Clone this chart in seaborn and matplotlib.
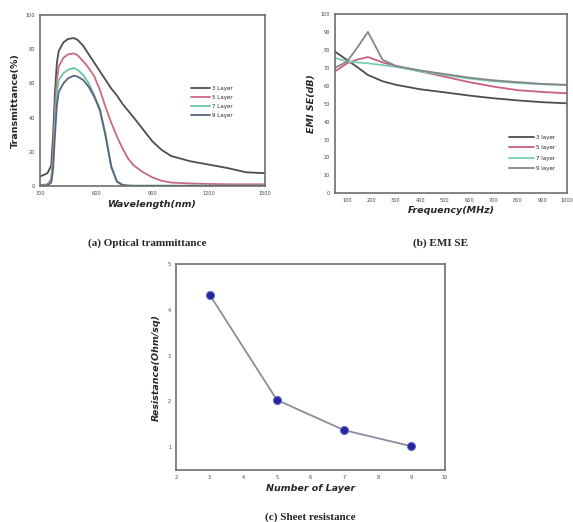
import numpy as np
import pandas as pd
import matplotlib
matplotlib.use("Agg")
import matplotlib.pyplot as plt
import seaborn as sns

# (a) optical transmittance
wavelength = [300, 340, 360, 370, 380, 390, 400, 425, 450, 480, 500, 530, 560, 590, 620,
              650, 680, 710, 740, 770, 800, 850, 900, 950, 1000, 1100, 1200, 1300, 1400, 1500]
trans_3 = [5.5, 7.5, 12, 30, 55, 72, 79, 84, 86, 86.5, 85.5, 82, 77, 72, 67,
           62, 57, 53, 48, 44, 40, 33, 26, 21, 17.5, 14.5, 12.5, 10.5, 8, 7.5]
trans_5 = [0.5, 1, 4, 20, 45, 62, 70, 75, 77, 77.5, 76.5, 73, 69, 64, 56,
           46, 37, 29, 22, 16, 12, 8, 5, 3, 2, 1.5, 1.2, 1, 1, 1]
trans_7 = [0, 0.5, 3, 15, 38, 55, 62, 66, 68, 69, 68, 65, 60, 53, 45,
           30, 12, 3, 0.8, 0.3, 0.2, 0.2, 0.2, 0.2, 0.2, 0.2, 0.2, 0.2, 0.2, 0.2]
trans_9 = [0, 0.3, 2, 10, 30, 47, 55, 60, 63, 64.5, 64, 62, 58, 52, 44,
           29, 11, 2.5, 0.5, 0.2, 0.1, 0.1, 0.1, 0.1, 0.1, 0.1, 0.1, 0.1, 0.1, 0.1]

# (b) EMI shielding effectiveness
frequency = [50, 100, 140, 185, 245, 300, 400, 500, 600, 700, 800, 900, 1000]
se_3 = [79, 74.3, 70.5, 66, 62.5, 60.5, 58, 56.3, 54.5, 53, 51.8, 50.8, 50.2]
se_5 = [68, 72.5, 74.5, 76, 73, 71, 68, 65, 62, 59.5, 57.5, 56.5, 55.8]
se_7 = [75.5, 73.5, 73, 72.5, 71.5, 70.5, 68, 66, 64, 62.5, 61.5, 60.8, 60.3]
se_9 = [70, 73.5, 81, 90, 74.5, 71, 68.5, 66.5, 64.5, 63, 62, 61, 60.5]

# (c) sheet resistance
layers = [3, 5, 7, 9]
resistance = [4.33, 2.03, 1.37, 1.02]

labels_a = ["3 Layer", "5 Layer", "7 Layer", "9 Layer"]
labels_b = ["3 layer", "5 layer", "7 layer", "9 layer"]
colors_a = ["#4e4e4e", "#c86a80", "#6cc4a4", "#5a6480"]
colors_b = ["#4e4e4e", "#c8607c", "#78cdb4", "#85858c"]

sns.set_theme(style="white")
plt.rcParams["font.family"] = ["DejaVu Sans"]

fig = plt.figure(figsize=(5.73, 5.22), dpi=100)

spine_color = "#6e6e6e"
tick_fs = 3.6
label_fs = 6.8
cap_font = {"family": "Liberation Serif", "weight": "bold", "size": 8}


def style_axes(ax):
    for s in ax.spines.values():
        s.set_color(spine_color)
        s.set_linewidth(1.2)
    ax.tick_params(axis="both", direction="out", length=2, width=0.8,
                   colors="#444444", labelsize=tick_fs, pad=1.5)


# ---- (a)
ax_a = fig.add_axes([0.0698, 0.6437, 0.3927, 0.3276])
df_a = pd.DataFrame({
    "wavelength": wavelength * 4,
    "trans": trans_3 + trans_5 + trans_7 + trans_9,
    "layer": np.repeat(labels_a, len(wavelength)),
})
sns.lineplot(data=df_a, x="wavelength", y="trans", hue="layer",
             palette=dict(zip(labels_a, colors_a)), linewidth=1.3, ax=ax_a)
ax_a.set_xlim(300, 1500)
ax_a.set_ylim(0, 100)
ax_a.set_xticks([300, 600, 900, 1200, 1500])
ax_a.set_yticks([0, 20, 40, 60, 80, 100])
ax_a.set_xlabel("Wavelength(nm)", fontsize=label_fs, fontweight="bold",
                fontstyle="italic", labelpad=3)
ax_a.set_ylabel("Transmittance(%)", fontsize=label_fs, fontweight="bold", labelpad=4)
style_axes(ax_a)
h, l = ax_a.get_legend_handles_labels()
ax_a.legend(h, l, loc="upper left", bbox_to_anchor=(0.66, 0.6), frameon=False,
            fontsize=4, handlelength=3.4, labelspacing=0.75, handletextpad=0.5,
            borderaxespad=0)

# ---- (b)
ax_b = fig.add_axes([0.5846, 0.6297, 0.4044, 0.3435])
df_b = pd.DataFrame({
    "frequency": frequency * 4,
    "se": se_3 + se_5 + se_7 + se_9,
    "layer": np.repeat(labels_b, len(frequency)),
})
sns.lineplot(data=df_b, x="frequency", y="se", hue="layer",
             palette=dict(zip(labels_b, colors_b)), linewidth=1.3, ax=ax_b)
ax_b.set_xlim(50, 1000)
ax_b.set_ylim(0, 100)
ax_b.set_xticks(range(100, 1001, 100))
ax_b.set_yticks(range(0, 101, 10))
ax_b.set_xlabel("Frequency(MHz)", fontsize=label_fs, fontweight="bold",
                fontstyle="italic", labelpad=2)
ax_b.set_ylabel("EMI SE(dB)", fontsize=label_fs, fontweight="bold",
                fontstyle="italic", labelpad=3)
style_axes(ax_b)
h, l = ax_b.get_legend_handles_labels()
ax_b.legend(h, l, loc="upper left", bbox_to_anchor=(0.74, 0.34), frameon=False,
            fontsize=4, handlelength=4.5, labelspacing=1.0, handletextpad=0.5,
            borderaxespad=0)

# ---- (c)
ax_c = fig.add_axes([0.3072, 0.0996, 0.4695, 0.3946])
df_c = pd.DataFrame({"layers": layers, "resistance": resistance})
sns.lineplot(data=df_c, x="layers", y="resistance", color="#8c8ca0",
             linewidth=1.3, ax=ax_c)
sns.scatterplot(data=df_c, x="layers", y="resistance", color="#26269a",
                edgecolor="#6a6ad0", linewidth=0.7, s=34, zorder=3, ax=ax_c)
ax_c.set_xlim(2, 10)
ax_c.set_ylim(0.5, 5)
ax_c.set_xticks(range(2, 11))
ax_c.set_yticks([1, 2, 3, 4, 5])
ax_c.set_xlabel("Number of Layer", fontsize=label_fs, fontweight="bold",
                fontstyle="italic", labelpad=3)
ax_c.set_ylabel("Resistance(Ohm/sq)", fontsize=label_fs, fontweight="bold",
                fontstyle="italic", labelpad=5)
style_axes(ax_c)

# captions
fig.text(0.257, 0.534, "(a) Optical trammittance", ha="center", va="center", **cap_font)
fig.text(0.768, 0.534, "(b) EMI SE", ha="center", va="center", **cap_font)
fig.text(0.541, 0.010, "(c) Sheet resistance", ha="center", va="center", **cap_font)

fig.savefig("out.png", dpi=100, facecolor="white")
